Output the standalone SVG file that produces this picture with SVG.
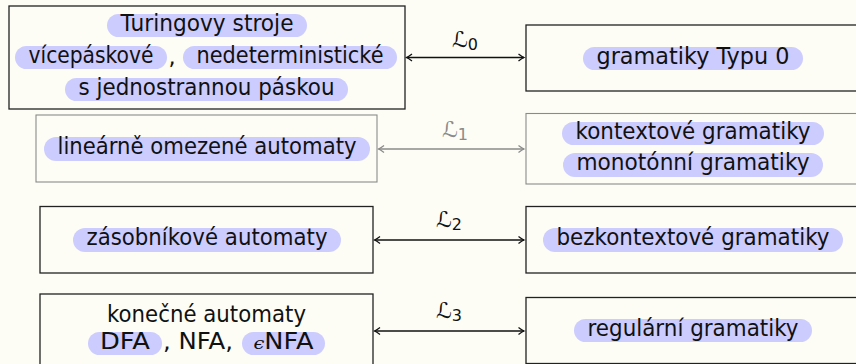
<svg xmlns="http://www.w3.org/2000/svg" width="856" height="364" viewBox="0 0 856 364">
<style>
.bg{fill:#fdfdf6}
.box{fill:none;stroke:#222;stroke-width:1.3}
.gbox{fill:none;stroke:#8a8a8a;stroke-width:1.1}
.pill{fill:#ccccff}
.t{font-family:"DejaVu Sans","Liberation Sans",sans-serif;font-size:22.5px;fill:#111;text-anchor:middle}
.lab{font-family:"DejaVu Sans","Liberation Sans",sans-serif;font-size:22px;fill:#111}
.sub{font-size:16px}
.conn{stroke:#111;stroke-width:1.3;fill:none}
.gconn{stroke:#8a8a8a;stroke-width:1.3;fill:none}
</style>
<defs>
<marker id="ah" markerWidth="10" markerHeight="10" refX="8" refY="5" orient="auto-start-reverse" markerUnits="userSpaceOnUse">
<path d="M2.5,1.5 Q6,4.2 8,5 Q6,5.8 2.5,8.5" fill="none" stroke="#111" stroke-width="1.3"/>
</marker>
<marker id="ahg" markerWidth="10" markerHeight="10" refX="8" refY="5" orient="auto-start-reverse" markerUnits="userSpaceOnUse">
<path d="M2.5,1.5 Q6,4.2 8,5 Q6,5.8 2.5,8.5" fill="none" stroke="#8a8a8a" stroke-width="1.3"/>
</marker>
</defs>
<rect class="bg" x="0" y="0" width="856" height="364"/>

<g id="tm">
<rect class="box" x="9" y="6" width="396" height="103"/>
<rect class="pill" x="107" y="14" width="200" height="23" rx="11.5"/>
<text class="t" x="207" y="31" textLength="173" lengthAdjust="spacingAndGlyphs">Turingovy stroje</text>
<rect class="pill" x="15" y="46" width="152" height="23" rx="11.5"/>
<text class="t" x="91" y="63" textLength="125" lengthAdjust="spacingAndGlyphs">vícepáskové</text>
<text class="t" x="172" y="64">,</text>
<rect class="pill" x="183" y="46" width="214" height="23" rx="11.5"/>
<text class="t" x="290" y="63" textLength="187" lengthAdjust="spacingAndGlyphs">nedeterministické</text>
<rect class="pill" x="65" y="78" width="283" height="23" rx="11.5"/>
<text class="t" x="206.5" y="95" textLength="256" lengthAdjust="spacingAndGlyphs">s jednostrannou páskou</text>
</g>

<g id="g0">
<rect class="box" x="526" y="25" width="334" height="66"/>
<rect class="pill" x="583" y="47" width="220" height="23" rx="11.5"/>
<text class="t" x="693" y="64" textLength="193" lengthAdjust="spacingAndGlyphs">gramatiky Typu 0</text>
</g>

<g id="lba">
<rect class="gbox" x="36" y="115" width="341" height="67"/>
<rect class="pill" x="44" y="137" width="326" height="24" rx="12"/>
<text class="t" x="207" y="154" textLength="299" lengthAdjust="spacingAndGlyphs">lineárně omezené automaty</text>
</g>

<g id="csg">
<rect class="gbox" x="526" y="113.5" width="334" height="70.5"/>
<rect class="pill" x="562" y="122" width="262" height="23" rx="11.5"/>
<text class="t" x="693" y="139" textLength="235" lengthAdjust="spacingAndGlyphs">kontextové gramatiky</text>
<rect class="pill" x="563" y="153" width="260" height="24" rx="12"/>
<text class="t" x="693" y="170" textLength="233" lengthAdjust="spacingAndGlyphs">monotónní gramatiky</text>
</g>

<g id="pda">
<rect class="box" x="40" y="206.5" width="333" height="66.5"/>
<rect class="pill" x="73" y="228" width="268" height="24" rx="12"/>
<text class="t" x="207" y="245" textLength="241" lengthAdjust="spacingAndGlyphs">zásobníkové automaty</text>
</g>

<g id="cfg">
<rect class="box" x="526" y="206.5" width="334" height="66.5"/>
<rect class="pill" x="543" y="228" width="300" height="24" rx="12"/>
<text class="t" x="693" y="245" textLength="273" lengthAdjust="spacingAndGlyphs">bezkontextové gramatiky</text>
</g>

<g id="fa">
<rect class="box" x="40" y="294" width="333" height="74"/>
<text class="t" x="206.5" y="322" textLength="199" lengthAdjust="spacingAndGlyphs">konečné automaty</text>
<rect class="pill" x="88" y="332" width="74" height="23" rx="11.5"/>
<text class="t" x="125" y="349" textLength="50" lengthAdjust="spacingAndGlyphs">DFA</text>
<text class="t" x="198" y="349" textLength="70" lengthAdjust="spacingAndGlyphs">, NFA,</text>
<rect class="pill" x="242" y="332" width="83" height="23" rx="11.5"/>
<text class="t" x="283.5" y="349" textLength="60" lengthAdjust="spacingAndGlyphs"><tspan font-family="DejaVu Serif,serif" font-style="italic" font-size="17">ϵ</tspan>NFA</text>
</g>

<g id="reg">
<rect class="box" x="526" y="297.5" width="334" height="66"/>
<rect class="pill" x="574" y="319" width="238" height="23" rx="11.5"/>
<text class="t" x="693" y="336" textLength="211" lengthAdjust="spacingAndGlyphs">regulární gramatiky</text>
</g>

<g id="connectors">
<line class="conn" x1="406.5" y1="57.5" x2="524" y2="57.5" marker-start="url(#ah)" marker-end="url(#ah)"/>
<text class="lab" x="452" y="47">ℒ<tspan class="sub" dy="3">0</tspan></text>
<line class="gconn" x1="378.5" y1="149" x2="524" y2="149" marker-start="url(#ahg)" marker-end="url(#ahg)"/>
<text class="lab" x="442" y="137" style="fill:#8a8a8a">ℒ<tspan class="sub" dy="3">1</tspan></text>
<line class="conn" x1="374.5" y1="240" x2="524" y2="240" marker-start="url(#ah)" marker-end="url(#ah)"/>
<text class="lab" x="436" y="227">ℒ<tspan class="sub" dy="3">2</tspan></text>
<line class="conn" x1="374.5" y1="331" x2="524" y2="331" marker-start="url(#ah)" marker-end="url(#ah)"/>
<text class="lab" x="436" y="318">ℒ<tspan class="sub" dy="3">3</tspan></text>
</g>
</svg>
